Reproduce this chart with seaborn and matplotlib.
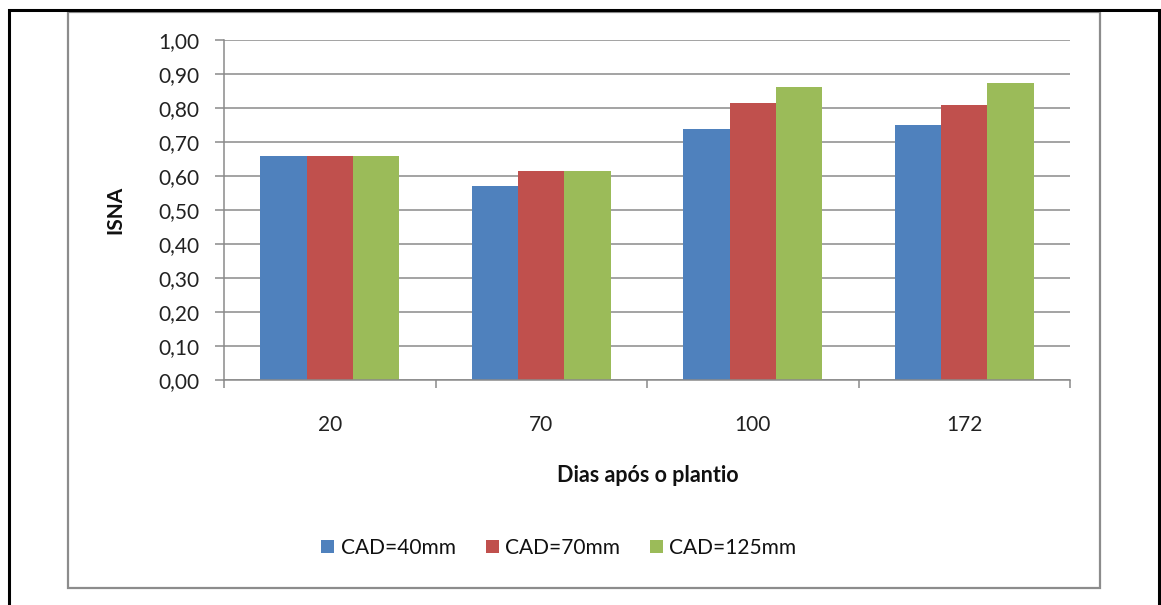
import matplotlib
matplotlib.use("Agg")
import matplotlib.pyplot as plt
from matplotlib.patches import Rectangle
from matplotlib.ticker import FixedLocator, FuncFormatter
import seaborn as sns
import pandas as pd

days = ["20", "70", "100", "172"]
series = ["CAD=40mm", "CAD=70mm", "CAD=125mm"]
cad40 = [0.66, 0.572, 0.737, 0.749]
cad70 = [0.66, 0.614, 0.814, 0.808]
cad125 = [0.66, 0.614, 0.861, 0.873]
colors = ["#4F81BD", "#C0504D", "#9BBB59"]
y_ticks = [0.0, 0.1, 0.2, 0.3, 0.4, 0.5, 0.6, 0.7, 0.8, 0.9, 1.0]

rows = []
for name, vals in zip(series, [cad40, cad70, cad125]):
    for d, v in zip(days, vals):
        rows.append({"Dias": d, "Serie": name, "ISNA": v})
df = pd.DataFrame(rows)

sns.set_style("white")
plt.rcParams["font.family"] = ["Lato", "DejaVu Sans"]

FS = 15
W, H = 1161, 605
fig = plt.figure(figsize=(W / 100, H / 100), dpi=100)
ax = fig.add_axes([224 / W, 1 - 380 / H, (1070 - 224) / W, 340 / H])

sns.barplot(data=df, x="Dias", y="ISNA", hue="Serie", order=days,
            hue_order=series, palette=colors, width=0.657, linewidth=0,
            saturation=1, ax=ax, legend=True)

ax.set_ylim(0, 1.0)
ax.set_xlim(-0.5, len(days) - 0.5)
ax.set_yticks(y_ticks)
ax.yaxis.set_major_formatter(FuncFormatter(lambda v, p: f"{v:.2f}".replace(".", ",")))
ax.grid(axis="y", color="#8a8a8a", linewidth=1.1)
ax.set_axisbelow(True)
for s in ["top", "right"]:
    ax.spines[s].set_visible(False)
for s in ["left", "bottom"]:
    ax.spines[s].set_color("#8a8a8a")
    ax.spines[s].set_linewidth(1.1)

ax.tick_params(axis="y", length=6.5, width=1.1, color="#8a8a8a", labelsize=FS,
               labelcolor="#222222", pad=11, left=True)
ax.tick_params(axis="x", which="major", length=0, labelsize=FS,
               labelcolor="#222222", pad=25)
ax.xaxis.set_minor_locator(FixedLocator([i - 0.5 for i in range(len(days) + 1)]))
ax.tick_params(axis="x", which="minor", length=6, width=1.1, color="#8a8a8a", bottom=True)

ax.set_xlabel("")
ax.set_ylabel("")
fig.text(648 / W, 1 - 476 / H, "Dias após o plantio", ha="center", va="center",
         fontsize=FS + 0.5, fontweight="bold", color="#111111")
fig.text(115 / W, 1 - 210 / H, "ISNA", ha="center", va="center", rotation=90,
         fontsize=FS, fontweight="bold", color="#111111")

handles, labels = ax.get_legend_handles_labels()
ax.get_legend().remove()
leg = fig.legend(handles, labels, loc="center", bbox_to_anchor=(559 / W, 1 - 548 / H),
                 ncol=3, frameon=False, fontsize=FS, handlelength=0.62,
                 handleheight=0.62, handletextpad=0.3, columnspacing=1.45)
for t in leg.get_texts():
    t.set_color("#111111")

# grey chart frame
fig.add_artist(Rectangle((68 / W, 1 - 588 / H), (1100 - 68) / W, (588 - 12) / H,
                         transform=fig.transFigure, fill=False,
                         edgecolor="#8c8c8c", linewidth=1.6))
# black outer border
fig.add_artist(Rectangle((8.5 / W, -0.05), (1158.5 - 8.5) / W, 1.05 - 9.5 / H,
                         transform=fig.transFigure, fill=False,
                         edgecolor="black", linewidth=2.2))

fig.savefig("out.png", dpi=100)
